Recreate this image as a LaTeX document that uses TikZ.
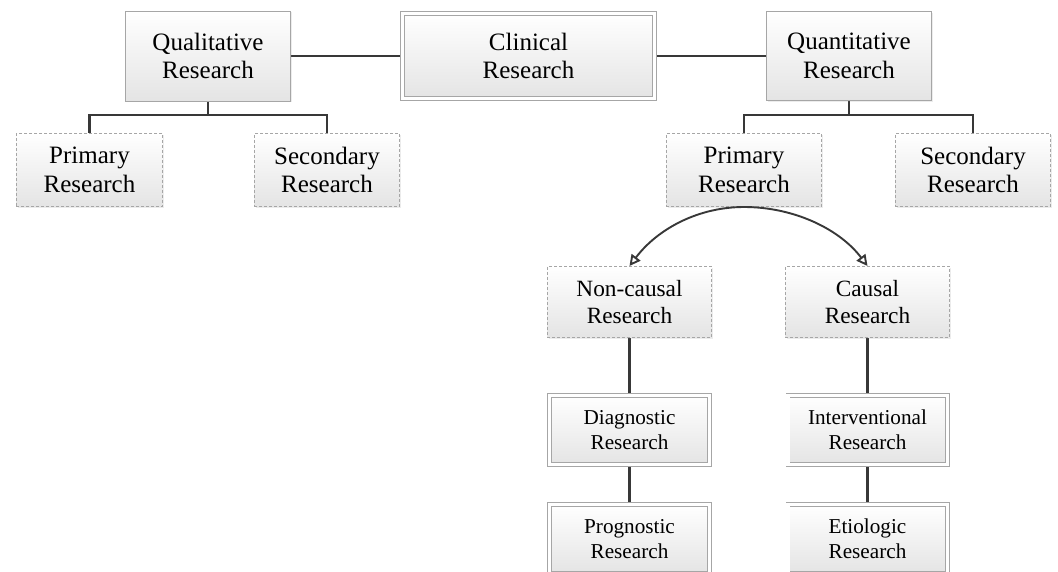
\documentclass[tikz,border=0pt]{standalone}
\usepackage{fontspec}
\setmainfont{Liberation Serif}
\usetikzlibrary{arrows.meta,shadows}
\definecolor{lineC}{HTML}{383838}
\definecolor{boxC}{HTML}{A6A6A6}
\definecolor{botC}{HTML}{E4E4E4}
\pgfdeclarelayer{bg}
\pgfsetlayers{bg,main}
\tikzset{
  base/.style={align=center, inner sep=0pt, top color=white, bottom color=botC,
    drop shadow={opacity=0.15, shadow xshift=1.2pt, shadow yshift=-1.2pt}},
  solidbox/.style={base, draw=boxC, line width=0.8pt},
  dashbox/.style={base, draw=boxC, line width=0.8pt, dash pattern=on 3pt off 2pt},
  dblbox/.style={base, draw=boxC, line width=0.8pt, double=white, double distance=3.2pt},
  conn/.style={draw=lineC, line width=2.3pt},
  arcconn/.style={draw=lineC, line width=1.9pt, -{Triangle[open,length=11pt,width=11pt]}},
  fbig/.style={font=\fontsize{25}{28.5}\selectfont},
  fmid/.style={font=\fontsize{23.3}{26.7}\selectfont},
  fsmall/.style={font=\fontsize{21.2}{25}\selectfont},
}
\begin{document}
\begin{tikzpicture}[x=1pt,y=-1pt]
\useasboundingbox (0,0) rectangle (1058,571);
\clip (0,0) rectangle (1058,571);
% top row
\node[solidbox,fbig,minimum width=165.2pt,minimum height=90.2pt] (qual) at (208,56) {Qualitative\\Research};
\node[dblbox,fbig,minimum width=252.2pt,minimum height=85.2pt] (clin) at (528.5,56) {Clinical\\Research};
\node[solidbox,fbig,minimum width=165.2pt,minimum height=89.2pt] (quant) at (849,56) {Quantitative\\Research};
% second row
\node[dashbox,fbig,minimum width=146.2pt,minimum height=73.2pt] (prim1) at (89.5,170) {Primary\\Research};
\node[dashbox,fbig,minimum width=145.2pt,minimum height=73.2pt] (sec1) at (327,170) {Secondary\\Research};
\node[dashbox,fbig,minimum width=155.2pt,minimum height=73.2pt] (prim2) at (744,170) {Primary\\Research};
\node[dashbox,fbig,minimum width=155.2pt,minimum height=73.2pt] (sec2) at (973,170) {Secondary\\Research};
% third row
\node[dashbox,fmid,minimum width=164.2pt,minimum height=71.2pt] (ncausal) at (629.5,302) {Non-causal\\Research};
\node[dashbox,fmid,minimum width=164.2pt,minimum height=71.2pt] (causal) at (867.5,302) {Causal\\Research};
% fourth and fifth rows
\node[dblbox,fsmall,minimum width=160.2pt,minimum height=69.2pt] (diag) at (629.5,430) {Diagnostic\\Research};
\node[dblbox,fsmall,minimum width=159.2pt,minimum height=69.2pt] (interv) at (867.5,430) {Interventional\\Research};
\node[dblbox,fsmall,minimum width=160.2pt,minimum height=69.2pt] (prog) at (629.5,539) {Prognostic\\Research};
\node[dblbox,fsmall,minimum width=159.2pt,minimum height=69.2pt] (etio) at (867.5,539) {Etiologic\\Research};
% connectors
\coordinate (jl) at (208,115);
\coordinate (jr) at (849,115);
\begin{pgfonlayer}{bg}
\draw[conn] (qual.east) -- (clin.west);
\draw[conn] (clin.east) -- (quant.west);
\draw[conn] (qual.south) -- (jl);
\draw[conn] (prim1.north) |- (jl) -| (sec1.north);
\draw[conn] (quant.south) -- (jr);
\draw[conn] (prim2.north) |- (jr) -| (sec2.north);
\draw[conn] (ncausal.south) -- (diag.north);
\draw[conn] (diag.south) -- (prog.north);
\draw[conn] (causal.south) -- (interv.north);
\draw[conn] (interv.south) -- (etio.north);
\end{pgfonlayer}
\draw[arcconn] (prim2.south) .. controls +(-46,0) and +(28,-37) .. (ncausal.north);
\draw[arcconn] (prim2.south) .. controls +(50,0) and +(-28,-37) .. (causal.north);
\end{tikzpicture}
\end{document}
